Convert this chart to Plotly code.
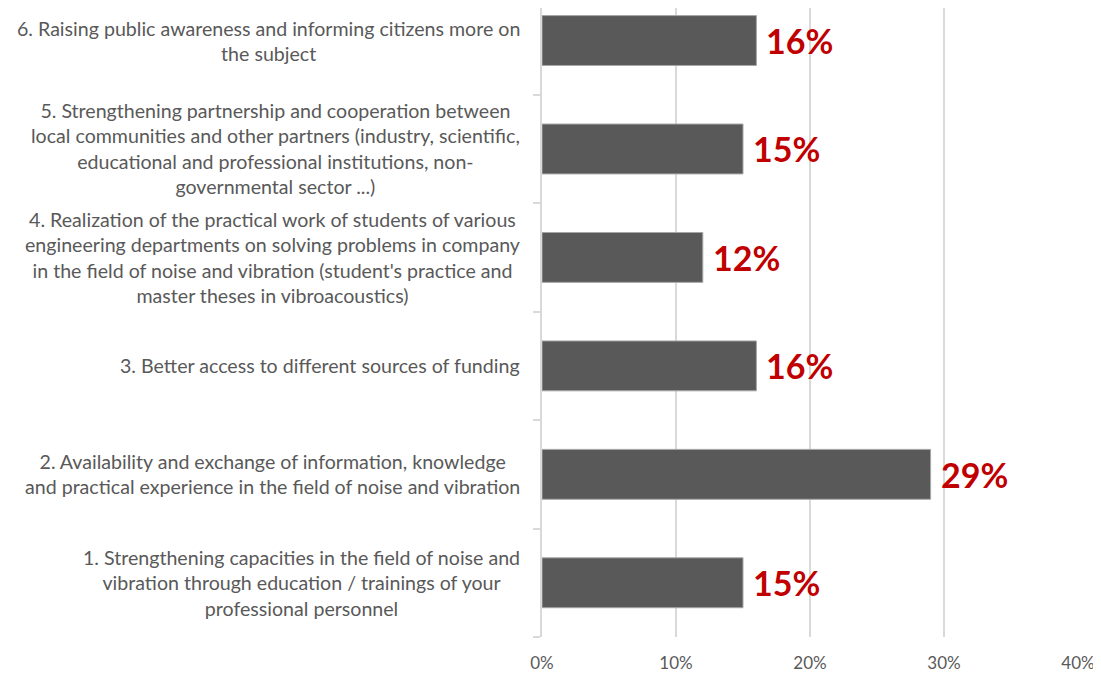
import plotly.graph_objects as go

# Data (bottom to top)
categories = [
    "1. Strengthening capacities in the field of noise and<br>vibration through education / trainings of your<br>professional personnel",
    "2. Availability and exchange of information, knowledge<br>and practical experience in the field of noise and vibration",
    "3. Better access to different sources of funding",
    "4. Realization of the practical work of students of various<br>engineering departments on solving problems in company<br>in the field of noise and vibration (student's practice and<br>master theses in vibroacoustics)",
    "5. Strengthening partnership and cooperation between<br>local communities and other partners (industry, scientific,<br>educational and professional institutions, non-<br>governmental sector ...)",
    "6. Raising public awareness and informing citizens more on<br>the subject",
]
values = [0.15, 0.29, 0.16, 0.12, 0.15, 0.16]
value_labels = ["15%", "29%", "16%", "12%", "15%", "16%"]
x_ticks = [0, 0.1, 0.2, 0.3, 0.4]
x_tick_labels = ["0%", "10%", "20%", "30%", "40%"]

keys = [str(i) for i in range(len(categories))]

fig = go.Figure()
fig.add_trace(go.Bar(
    x=values, y=keys, orientation="h",
    marker=dict(color="#595959", line=dict(color="#A6A6A6", width=1)),
    hoverinfo="skip",
))

annotations = []
for k, lab in zip(keys, categories):
    annotations.append(dict(
        x=-0.037, xref="paper", y=k, yref="y",
        text=lab, showarrow=False, xanchor="right", yanchor="middle",
        align="center",
        font=dict(family="Lato, Calibri, sans-serif", size=19.6, color="#595959"),
    ))
for k, v, t in zip(keys, values, value_labels):
    annotations.append(dict(
        x=v, xref="x", y=k, yref="y", text=t, showarrow=False,
        xanchor="left", yanchor="middle", xshift=8,
        font=dict(family="Lato, sans-serif", size=34, color="#C00000", weight="bold"),
    ))

# The page body adds an 8px offset; the figure size and margins account for it.
fig.update_layout(
    width=1093, height=666,
    margin=dict(l=534, r=23, t=0, b=37, autoexpand=False),
    paper_bgcolor="white", plot_bgcolor="white",
    showlegend=False,
    bargap=0.54,
    annotations=annotations,
    xaxis=dict(
        range=[0, 0.4], tickvals=x_ticks, ticktext=x_tick_labels,
        showgrid=True, gridcolor="#D9D9D9", gridwidth=2,
        zeroline=False, showline=False, automargin=False,
        ticks="outside", ticklen=11, tickcolor="rgba(0,0,0,0)",
        tickfont=dict(family="Lato, Calibri, sans-serif", size=17, color="#595959"),
        fixedrange=True,
    ),
    yaxis=dict(
        range=[-0.5, 5.30], type="category", automargin=False,
        showticklabels=False, showgrid=False,
        showline=True, linecolor="#D9D9D9", linewidth=2,
        ticks="outside", tickson="boundaries", ticklen=7,
        tickcolor="#D9D9D9", tickwidth=2,
        fixedrange=True,
    ),
)

fig.write_html("out.html")
